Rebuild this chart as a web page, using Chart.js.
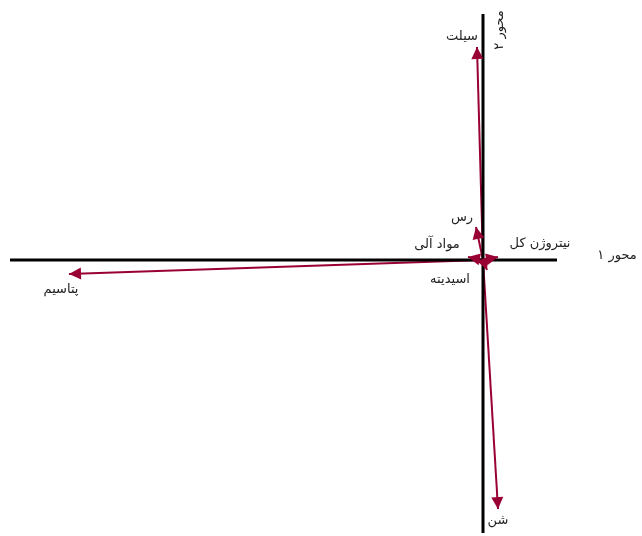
<!DOCTYPE html>
<html lang="fa">
<head>
    <meta charset="UTF-8">
    <title>نمودار دوگانه</title>
    <script src="https://cdn.jsdelivr.net/npm/chart.js"></script>
    <style>
        html, body { margin: 0; padding: 0; background: #fff; }
        #wrap { width: 642px; height: 536px; }
    </style>
</head>
<body>
    <div id="wrap"><canvas id="biplot"></canvas></div>

    <script>
        // متغیرها و مختصات روی دو محور
        const variables = ['سیلت', 'رس', 'مواد آلی', 'نیتروژن کل', 'اسیدیته', 'پتاسیم', 'شن'];
        const axis1 = [-0.06, -0.07, -0.15, 0.15, 0.04, -4.14, 0.15];
        const axis2 = [2.13, 0.33, 0.03, 0.03, -0.10, -0.14, -2.49];

        // دامنه خطوط محورها
        const axis1Range = [-4.73, 0.74];
        const axis2Range = [-2.73, 2.46];
        const axisTitles = ['محور ۱', 'محور ۲'];

        const arrowColor = '#990033';
        // جابجایی برچسب‌ها نسبت به نوک پیکان (پیکسل)
        const labelOffsets = [[-15, -10], [-14, -9], [-31, -12], [42, -13], [-37, 10], [-8, 16], [0, 12]];

        const datasets = [
            { data: [{ x: axis1Range[0], y: 0 }, { x: axis1Range[1], y: 0 }], borderColor: '#000', borderWidth: 3 },
            { data: [{ x: 0, y: axis2Range[0] }, { x: 0, y: axis2Range[1] }], borderColor: '#000', borderWidth: 3 }
        ];
        variables.forEach((v, i) => {
            datasets.push({
                label: v,
                data: [{ x: 0, y: 0 }, { x: axis1[i], y: axis2[i] }],
                borderColor: arrowColor,
                borderWidth: 2,
                arrow: true
            });
        });

        const arrowPlugin = {
            id: 'arrows',
            afterDatasetsDraw(chart) {
                const ctx = chart.ctx;
                const xs = chart.scales.x, ys = chart.scales.y;
                ctx.save();
                chart.data.datasets.forEach((ds, i) => {
                    if (!ds.arrow) return;
                    const p0 = ds.data[0], p1 = ds.data[1];
                    const x0 = xs.getPixelForValue(p0.x), y0 = ys.getPixelForValue(p0.y);
                    const x1 = xs.getPixelForValue(p1.x), y1 = ys.getPixelForValue(p1.y);
                    const a = Math.atan2(y1 - y0, x1 - x0);
                    const len = 12, half = 6;
                    ctx.fillStyle = arrowColor;
                    ctx.beginPath();
                    ctx.moveTo(x1, y1);
                    ctx.lineTo(x1 - len * Math.cos(a) + half * Math.sin(a), y1 - len * Math.sin(a) - half * Math.cos(a));
                    ctx.lineTo(x1 - len * Math.cos(a) - half * Math.sin(a), y1 - len * Math.sin(a) + half * Math.cos(a));
                    ctx.closePath();
                    ctx.fill();
                });

                // برچسب متغیرها
                ctx.font = '13px "DejaVu Sans", sans-serif';
                ctx.fillStyle = '#222';
                ctx.textAlign = 'center';
                ctx.textBaseline = 'middle';
                variables.forEach((v, i) => {
                    const px = xs.getPixelForValue(axis1[i]) + labelOffsets[i][0];
                    const py = ys.getPixelForValue(axis2[i]) + labelOffsets[i][1];
                    ctx.fillText(v, px, py);
                });

                // عنوان محورها
                ctx.fillText(axisTitles[0], xs.getPixelForValue(1.34), ys.getPixelForValue(0.04));
                ctx.save();
                ctx.translate(xs.getPixelForValue(0.17), ys.getPixelForValue(2.30));
                ctx.rotate(-Math.PI / 2);
                ctx.fillText(axisTitles[1], 0, 0);
                ctx.restore();
                ctx.restore();
            }
        };

        new Chart(document.getElementById('biplot'), {
            type: 'scatter',
            data: { datasets: datasets },
            options: {
                responsive: true,
                maintainAspectRatio: false,
                animation: false,
                showLine: true,
                elements: { point: { radius: 0, hoverRadius: 0 }, line: { tension: 0 } },
                layout: { padding: 0 },
                plugins: { legend: { display: false }, tooltip: { enabled: false } },
                scales: {
                    x: { type: 'linear', display: false, min: -4.83, max: 1.59 },
                    y: { type: 'linear', display: false, min: -2.76, max: 2.60 }
                }
            },
            plugins: [arrowPlugin]
        });
    </script>
</body>
</html>
